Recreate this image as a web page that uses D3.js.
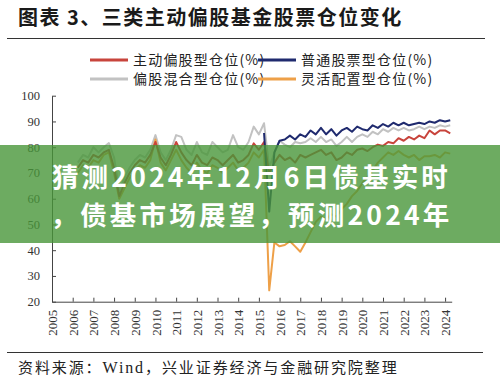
<!DOCTYPE html>
<html><head><meta charset="utf-8">
<script src="https://cdn.jsdelivr.net/npm/d3@7"></script>
<style>body{margin:0;background:#fff}svg{display:block}</style>
</head><body><svg id="c" width="500" height="388"></svg>
<script>
// quarterly data, first value = 2006 Q1 (quarter-end 2006.25)
const firstQuarterEnd = 2006.25;
const seriesNames = ["主动偏股型仓位(%)", "普通股票型仓位(%)", "偏股混合型仓位(%)", "灵活配置型仓位(%)"];
const activeEquity = [
  72, 75, 74, 77,  76, 78, 79, 72,  61, 66, 70, 73,  75, 74, 77, 82,
  76, 73, 77, 82,  78, 75, 73, 77,  74, 73, 76, 75,  73, 75, 77, 74,
  75, 77, 81.5, 79, 82, 70, 74, 77, 75, 76, 74, 77,  76, 77, 78, 79,
  77, 78, 75, 76,  78, 77, 79, 79.5, 78.5, 80, 81, 80.5, 82, 81.5, 83.5, 82.5,
  84, 83, 84.5, 83.5, 86.5, 85, 86.5, 86.5, 85.4
];
const mixedEquity = [
  74, 77, 76, 80,  78, 80, 81.6, 76,  63, 68, 72, 75,  77, 76, 79, 84.7,
  78, 75, 79, 84.7, 84, 79, 77, 82,  78, 77, 82, 80,  78, 79, 84.7, 80,
  79, 82, 88, 85,  89.3, 72, 78, 82.5, 81, 80, 82, 81.5, 82, 83.5, 82, 84,
  82, 83, 80.5, 82, 84, 82, 84, 85,  84, 86, 85, 87,  86, 87.5, 86.5, 87.5,
  86.5, 87, 88, 87, 88, 87.5, 88.5, 88, 88.5
];
const flexible = [
  70, 73, 72, 75,  74, 77, 78, 70,  60, 64, 68, 71,  73, 72, 75, 83,
  74, 71, 75, 79,  75, 72, 70, 74,  71, 70, 73, 72,  70, 72, 74, 71,
  72, 74, 78, 76,  79, 24.4, 43, 41.5, 42, 43.5, 41.5, 39.4, 43, 47, 51, 53,
  52, 54, 53, 56,  58, 61, 63, 66,  68.5, 71, 74, 76,  78, 77, 78.5, 77,
  76, 77, 75, 76.5, 76.5, 77, 76, 78, 77.5
];
// 普通股票型 starts 2015 Q1 (quarter-end 2015.25)
const stockFirstQuarterEnd = 2015.25;
const stockFund = [
  85.5, 55, 78, 82.5, 83, 84.5, 83, 85,  84, 86.5, 85, 87.5,
  85, 87, 84.5, 86.5, 87.5, 86, 88, 87,  86.5, 88.5, 87.5, 89,
  88, 89.5, 88.5, 89.5, 88.5, 89, 89.5, 89, 90, 89.5, 90.5, 90, 90.5
];
const yearTicks = d3.range(2005, 2025);
const yTicks = [20, 30, 40, 50, 60, 70, 80, 90, 100];
const titleText = "图表 3、三类主动偏股基金股票仓位变化";
const sourceParts = ["资料来源：", "Wind", "，兴业证券经济与金融研究院整理"];
const bannerLines = ["猜测2024年12月6日债基实时", "，债基市场展望，预测2024年"];

const svg = d3.select("#c");
const x = d3.scaleLinear().domain([2005, 2024.32]).range([52, 451.7]);
const y = d3.scaleLinear().domain([20, 100]).range([301.7, 95.7]);

// title + rules
svg.append("text").attr("x", 18).attr("y", 24.5).text(titleText)
  .attr("font-family", "Noto Sans CJK SC").attr("font-weight", 700)
  .attr("font-size", 20).attr("letter-spacing", 1.5).attr("fill", "#1a1a1a");
svg.append("line").attr("x1", 7).attr("x2", 485).attr("y1", 38.5).attr("y2", 38.5)
  .attr("stroke", "#333").attr("stroke-width", 1);
svg.append("line").attr("x1", 7).attr("x2", 483).attr("y1", 352.5).attr("y2", 352.5)
  .attr("stroke", "#333").attr("stroke-width", 1);
const src = svg.append("text").attr("x", 18).attr("y", 373)
  .attr("font-family", "Noto Sans CJK SC").attr("font-size", 15)
  .attr("letter-spacing", 1.9).attr("fill", "#222");
src.selectAll("tspan").data(sourceParts).join("tspan").text(d => d)
  .attr("font-family", (d, i) => i === 1 ? "Liberation Serif" : "Noto Sans CJK SC")
  .attr("font-size", (d, i) => i === 1 ? 16 : 15);

const colors = {red: "#c8443c", blue: "#1f2a6e", gray: "#c2c2c2", orange: "#eea048"};

// legend
const legendItems = [
  {name: seriesNames[0], color: colors.red, lx: 90, ly: 60},
  {name: seriesNames[1], color: colors.blue, lx: 258, ly: 60},
  {name: seriesNames[2], color: colors.gray, lx: 90, ly: 79},
  {name: seriesNames[3], color: colors.orange, lx: 258, ly: 79}
];
const lg = svg.append("g").selectAll("g").data(legendItems).join("g");
lg.append("line").attr("x1", d => d.lx).attr("x2", d => d.lx + 38)
  .attr("y1", d => d.ly).attr("y2", d => d.ly)
  .attr("stroke", d => d.color).attr("stroke-width", 3);
lg.append("text").attr("x", d => d.lx + 43).attr("y", d => d.ly + 5).text(d => d.name)
  .attr("font-family", "Noto Sans CJK SC").attr("font-size", 14)
  .attr("letter-spacing", 1.2).attr("fill", "#222");

// axes
const axisColor = "#444";
const xAxis = svg.append("g").attr("transform", "translate(0,301.7)")
  .call(d3.axisBottom(x).tickValues(yearTicks).tickSizeInner(-4).tickSizeOuter(0).tickFormat(d3.format("d")));
xAxis.select(".domain").attr("stroke", axisColor);
xAxis.selectAll(".tick line").attr("stroke", axisColor);
xAxis.selectAll(".tick text").attr("transform", "rotate(-90)")
  .attr("text-anchor", "end").attr("x", -8).attr("y", 0).attr("dy", "0.35em")
  .attr("font-family", "Liberation Serif").attr("font-size", 13).attr("fill", "#333");

const yAxis = svg.append("g").attr("transform", "translate(52,0)")
  .call(d3.axisLeft(y).tickValues(yTicks).tickSizeInner(-4).tickSizeOuter(0));
yAxis.select(".domain").attr("stroke", axisColor);
yAxis.selectAll(".tick line").attr("stroke", axisColor);
yAxis.selectAll(".tick text").attr("x", -12)
  .attr("font-family", "Liberation Serif").attr("font-size", 12.5).attr("fill", "#333");

// lines
const toPts = (arr, start) => arr.map((v, i) => [start + i * 0.25, v]);
const line = d3.line().x(d => x(d[0])).y(d => y(d[1]));
const series = [
  {pts: toPts(mixedEquity, firstQuarterEnd), color: colors.gray},
  {pts: toPts(flexible, firstQuarterEnd), color: colors.orange},
  {pts: toPts(activeEquity, firstQuarterEnd), color: colors.red},
  {pts: toPts(stockFund, stockFirstQuarterEnd), color: colors.blue}
];
svg.append("g").selectAll("path").data(series).join("path")
  .attr("d", d => line(d.pts)).attr("fill", "none")
  .attr("stroke", d => d.color).attr("stroke-width", 2).attr("stroke-linejoin", "round");

// overlay banner
svg.append("rect").attr("x", 0).attr("y", 145).attr("width", 500).attr("height", 98)
  .attr("fill", "rgb(72,150,58)").attr("fill-opacity", 0.8);
svg.append("g").selectAll("text").data(bannerLines).join("text")
  .attr("x", 251.5).attr("y", (d, i) => 186.5 + i * 38.7).attr("text-anchor", "middle")
  .text(d => d).attr("font-family", "Noto Sans CJK SC").attr("font-weight", 700)
  .attr("font-size", 26.5).attr("letter-spacing", 3.2).attr("fill", "#fff");
</script></body></html>
